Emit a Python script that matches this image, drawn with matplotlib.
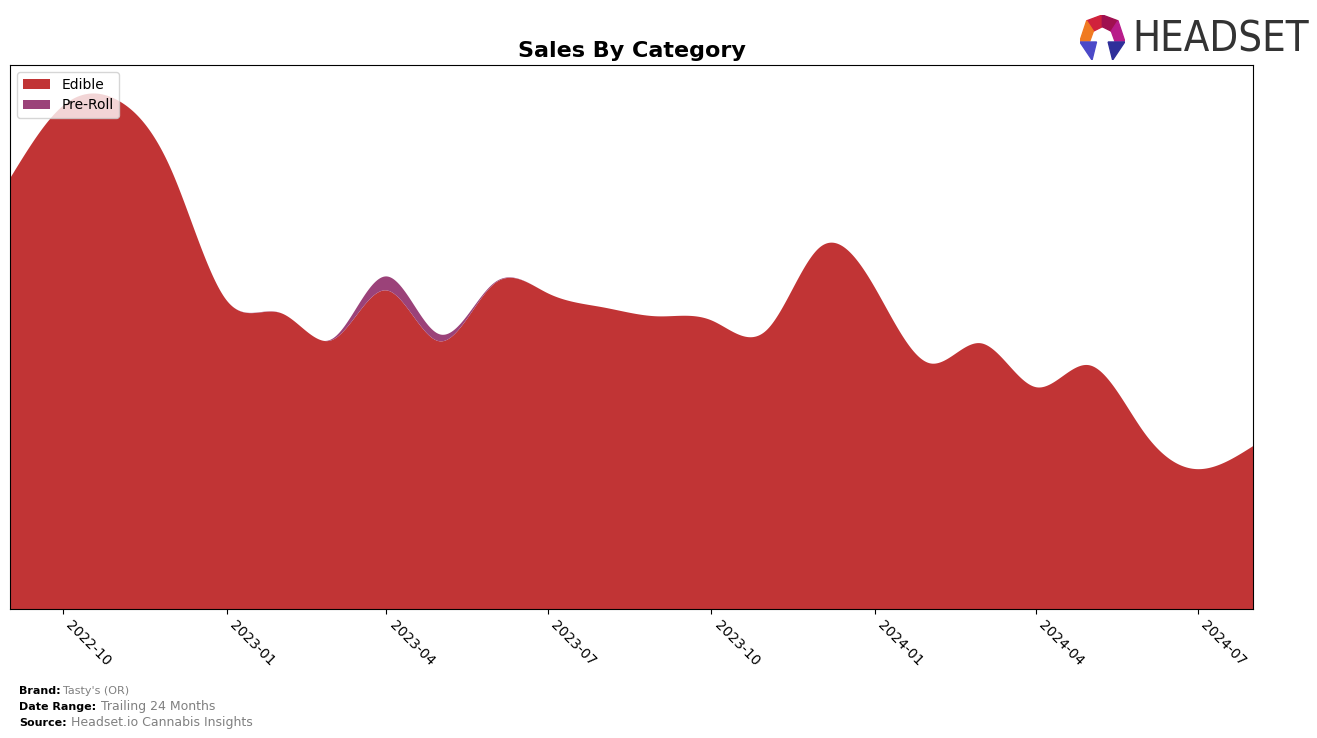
import numpy as np
import pandas as pd
import matplotlib
matplotlib.use("Agg")
import matplotlib.pyplot as plt
import matplotlib.dates as mdates
from matplotlib.patches import Polygon

## monthly values (arbitrary units, y axis is hidden)
months = pd.date_range("2022-09-01", "2024-08-01", freq="MS")
edible = [431, 504, 509, 439, 309, 296, 269, 319, 268, 326, 316, 302,
          293, 289, 279, 362, 322, 246, 266, 222, 244, 176, 140, 163]
preroll = [0, 0, 0, 0, 0, 0, 1, 14, 7, 1, 0, 0,
           0, 0, 0, 0, 0, 0, 0, 0, 0, 0, 0, 0]
series_names = ["Edible", "Pre-Roll"]
series_colors = ["#C13435", "#9B4279"]

brand = "Tasty's (OR)"
date_range = "Trailing 24 Months"
source = "Headset.io Cannabis Insights"


## natural cubic spline, just for the smooth look of the areas
def smooth(x, y, xs):
    x = np.asarray(x, float)
    y = np.asarray(y, float)
    n = len(x)
    h = np.diff(x)
    A = np.zeros((n, n))
    b = np.zeros(n)
    A[0, 0] = 1
    A[-1, -1] = 1
    for i in range(1, n - 1):
        A[i, i - 1] = h[i - 1]
        A[i, i] = 2 * (h[i - 1] + h[i])
        A[i, i + 1] = h[i]
        b[i] = 3 * ((y[i + 1] - y[i]) / h[i] - (y[i] - y[i - 1]) / h[i - 1])
    c = np.linalg.solve(A, b)
    idx = np.clip(np.searchsorted(x, xs) - 1, 0, n - 2)
    dx = xs - x[idx]
    bb = (y[idx + 1] - y[idx]) / h[idx] - h[idx] * (2 * c[idx] + c[idx + 1]) / 3
    dd = (c[idx + 1] - c[idx]) / (3 * h[idx])
    return y[idx] + bb * dx + c[idx] * dx ** 2 + dd * dx ** 3


xnum = mdates.date2num(months.to_pydatetime())
xs = np.linspace(xnum[0], xnum[-1], 800)
ys_edible = np.clip(smooth(xnum, edible, xs), 0, None)
ys_preroll = np.clip(smooth(xnum, preroll, xs), 0, None)

fig = plt.figure(figsize=(13.17, 7.38), dpi=100)
ax = fig.add_axes([0.0076, 0.1748, 0.9438, 0.7371])

ax.stackplot(mdates.num2date(xs), ys_edible, ys_preroll,
             labels=series_names, colors=series_colors)
ax.set_xlim(xnum[0], xnum[-1])
ax.set_ylim(0, max(np.array(edible) + np.array(preroll)) * 1.07)

ax.xaxis.set_major_locator(mdates.MonthLocator(bymonth=[1, 4, 7, 10]))
ax.xaxis.set_major_formatter(mdates.DateFormatter("%Y-%m"))
plt.setp(ax.get_xticklabels(), rotation=-45, ha="left", fontsize=10)
ax.set_yticks([])

ax.set_title("Sales By Category", fontsize=16, fontweight="bold", pad=6)
ax.legend(loc="upper left", fontsize=10)

## footer
fig.text(0.0144, 0.0596, "Brand:", fontsize=8, fontweight="bold")
fig.text(0.048, 0.0596, brand, fontsize=8, color="gray")
fig.text(0.0144, 0.038, "Date Range:", fontsize=8, fontweight="bold")
fig.text(0.077, 0.038, date_range, fontsize=9, color="gray")
fig.text(0.0144, 0.0166, "Source:", fontsize=8, fontweight="bold")
fig.text(0.054, 0.0166, source, fontsize=9, color="gray")

## logo
fig.text(0.860, 0.947, "HEADSET", fontsize=30, color="#333333",
         fontfamily="DejaVu Sans", fontstretch="condensed", va="center")
logo = fig.add_axes([0.820, 0.9187, 0.034, 0.061])
logo.set_xlim(0, 1)
logo.set_ylim(0, 1)
logo.axis("off")
pieces = [
    ([(0.15, 0.87), (0.5, 1.0), (0.5, 0.74), (0.3, 0.64)], "#D0223C"),
    ([(0.5, 1.0), (0.85, 0.87), (0.7, 0.64), (0.5, 0.74)], "#A01050"),
    ([(0.85, 0.87), (1.0, 0.42), (0.78, 0.42), (0.7, 0.64)], "#B81C8A"),
    ([(0.15, 0.87), (0.3, 0.64), (0.22, 0.42), (0.0, 0.42)], "#F07A22"),
    ([(0.0, 0.40), (0.37, 0.40), (0.27, 0.0)], "#4B49C8"),
    ([(1.0, 0.40), (0.63, 0.40), (0.73, 0.0)], "#2F2F9A"),
]
for pts, col in pieces:
    logo.add_patch(Polygon(pts, closed=True, color=col))

fig.savefig("out.png", dpi=100)
